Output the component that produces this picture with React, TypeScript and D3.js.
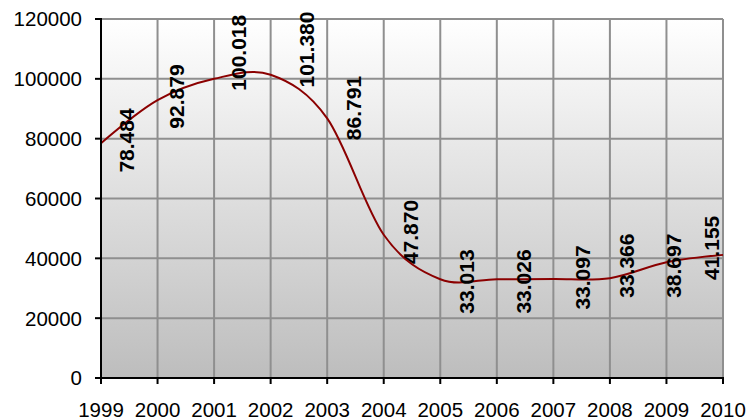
import React from "react";
import * as d3 from "d3";

const years: string[] = ["1999", "2000", "2001", "2002", "2003", "2004", "2005", "2006", "2007", "2008", "2009", "2010"];
const values: number[] = [78484, 92879, 100018, 101380, 86791, 47870, 33013, 33026, 33097, 33366, 38697, 41155];
const valueLabels: string[] = ["78.484", "92.879", "100.018", "101.380", "86.791", "47.870", "33.013", "33.026", "33.097", "33.366", "38.697", "41.155"];
const yTicks: number[] = [0, 20000, 40000, 60000, 80000, 100000, 120000];

// label nudges in pixels relative to each point (layout only)
const labelDx: number[] = [25.5, 19, 24.4, 36, 25.8, 26.3, 26.2, 26.2, 28.6, 16.6, 7, -11.5];
const labelDy: number[] = [-2.7, -3.6, -26, -25.2, -10.3, -2.8, 2.3, 2.3, -1.5, -12.5, 3.5, -7];

const W = 752;
const H = 419;
const left = 101;
const right = 723;
const top = 19;
const bottom = 378;

export default function App() {
  const x = d3.scalePoint<string>().domain(years).range([left, right]);
  const y = d3.scaleLinear().domain([0, 120000]).range([bottom, top]);
  const line = d3
    .line<number>()
    .x((_, i) => x(years[i]) as number)
    .y((d) => y(d))
    .curve(d3.curveCatmullRom.alpha(0));
  const font = "'Liberation Sans', Arial, sans-serif";
  return (
    <div style={{ position: "fixed", left: 0, top: 0 }}>
      <svg width={W} height={H} style={{ display: "block", background: "#fff" }}>
        <defs>
          <linearGradient id="bg" x1="0" y1="0" x2="0" y2="1">
            <stop offset="0%" stopColor="#ffffff" />
            <stop offset="100%" stopColor="#bdbdbd" />
          </linearGradient>
        </defs>
        <rect x={left} y={top} width={right - left} height={bottom - top} fill="url(#bg)" />
        {yTicks.map((t) => (
          <line key={"hg" + t} x1={left} x2={right} y1={y(t)} y2={y(t)} stroke="#8f8f8f" strokeWidth={2} />
        ))}
        {years.map((yr) => (
          <line key={"vg" + yr} x1={x(yr)} x2={x(yr)} y1={top} y2={bottom} stroke="#8f8f8f" strokeWidth={2} />
        ))}
        <path d={line(values) || ""} fill="none" stroke="#8b0000" strokeWidth={2} />
        <line x1={left} x2={left} y1={top - 1} y2={bottom + 1} stroke="#000" strokeWidth={2} />
        <line x1={left - 1} x2={right + 1} y1={bottom} y2={bottom} stroke="#000" strokeWidth={2} />
        {yTicks.map((t) => (
          <g key={"yt" + t}>
            <line x1={left - 6} x2={left} y1={y(t)} y2={y(t)} stroke="#000" strokeWidth={2} />
            <text x={82} y={y(t)} dy="0.36em" textAnchor="end" fontFamily={font} fontSize={20.5} fill="#000">
              {t}
            </text>
          </g>
        ))}
        {years.map((yr) => (
          <g key={"xt" + yr}>
            <line x1={x(yr)} x2={x(yr)} y1={bottom} y2={bottom + 6} stroke="#000" strokeWidth={2} />
            <text x={x(yr)} y={416.5} textAnchor="middle" fontFamily={font} fontSize={20.5} fill="#000">
              {yr}
            </text>
          </g>
        ))}
        {values.map((v, i) => {
          const cx = (x(years[i]) as number) + labelDx[i];
          const cy = y(v) + labelDy[i];
          return (
            <text
              key={"lb" + i}
              transform={`translate(${cx},${cy}) rotate(-90)`}
              textAnchor="middle"
              dy="0.36em"
              fontFamily={font}
              fontSize={21}
              fontWeight="bold"
              fill="#000"
            >
              {valueLabels[i]}
            </text>
          );
        })}
      </svg>
    </div>
  );
}
